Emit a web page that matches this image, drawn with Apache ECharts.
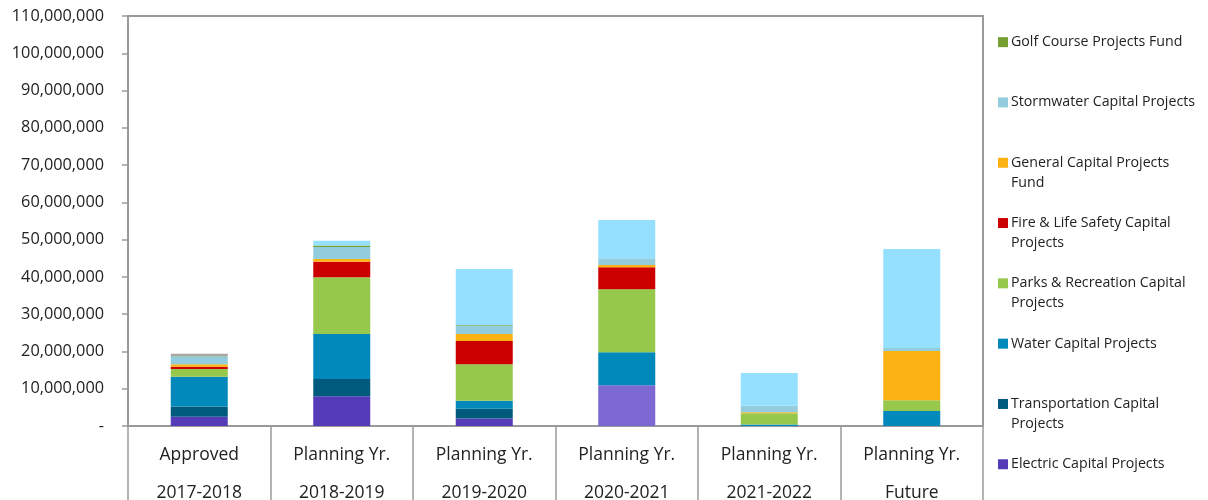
<!DOCTYPE html>
<html>
<head>
<meta charset="utf-8">
<script src="https://cdn.jsdelivr.net/npm/echarts@6/dist/echarts.min.js"></script>
<style>
  html, body { margin: 0; padding: 0; background: #fff; }
  #chart { width: 1208px; height: 500px; }
</style>
</head>
<body>
<div id="chart"></div>
<script>
// Capital project funding by planning year (dollars)
const categories = [
  'Approved\n2017-2018',
  'Planning Yr.\n2018-2019',
  'Planning Yr.\n2019-2020',
  'Planning Yr.\n2020-2021',
  'Planning Yr.\n2021-2022',
  'Planning Yr.\nFuture'
];

const electric       = [2500000, 8000000, 2000000, 10900000, 0, 0];
const transportation = [2700000, 4600000, 2600000, 0, 0, 0];
const water          = [8000000, 12100000, 2200000, 8900000, 400000, 4000000];
const parks          = [2100000, 15200000, 9800000, 16900000, 3000000, 2900000];
const fireLife       = [600000, 4200000, 6200000, 5900000, 0, 0];
const generalFund    = [700000, 700000, 1900000, 600000, 300000, 13200000];
const stormwater     = [2100000, 3200000, 2100000, 1800000, 1700000, 800000];
const golf           = [100000, 400000, 200000, 0, 0, 0];
const otherProjects  = [0, 1300000, 15100000, 10300000, 8800000, 26600000];
const miscProjects   = [600000, 0, 0, 0, 0, 0];

const yTicks = { min: 0, max: 110000000, interval: 10000000 };

// Legend entries, top to bottom, with their wrapped display text
const legendItems = [
  ['Golf Course Projects Fund'],
  ['Stormwater Capital Projects'],
  ['General Capital Projects', 'Fund'],
  ['Fire & Life Safety Capital', 'Projects'],
  ['Parks & Recreation Capital', 'Projects'],
  ['Water Capital Projects'],
  ['Transportation Capital', 'Projects'],
  ['Electric Capital Projects']
];

const FONT = '"Open Sans", "Noto Sans", sans-serif';

function bar(name, data, color, extra) {
  return Object.assign({
    name: name,
    type: 'bar',
    stack: 'total',
    barWidth: 57,
    data: data,
    itemStyle: { color: color },
    emphasis: { disabled: true }
  }, extra || {});
}

// The 2020-2021 electric segment is drawn in a lighter purple
const electricData = electric.map((v, i) =>
  i === 3 ? { value: v, itemStyle: { color: '#7B68D0' } } : v);

const chart = echarts.init(document.getElementById('chart'), null, { renderer: 'canvas' });

chart.setOption({
  animation: false,
  backgroundColor: '#ffffff',
  textStyle: { fontFamily: FONT },
  grid: {
    left: 128, right: 225, top: 16, bottom: 74,
    containLabel: false,
    outerBoundsMode: 'none',
    show: true, borderColor: '#9a9a9a', borderWidth: 2, backgroundColor: 'transparent'
  },
  legend: {
    orient: 'vertical',
    left: 998,
    top: 12,
    height: 488,
    padding: 0,
    itemWidth: 10,
    itemHeight: 10,
    itemGap: 0,
    icon: 'rect',
    data: legendItems.map(l => l.join(' ')),
    formatter: function (name) {
      const item = legendItems.find(l => l.join(' ') === name);
      const lines = [''].concat(item);
      if (item.length === 1) lines.push('');
      return lines.join('\n');
    },
    textStyle: { fontFamily: FONT, fontSize: 14.2, color: '#222', lineHeight: 20.1, padding: [0, 0, 0, -2] },
    selectedMode: false
  },
  xAxis: {
    type: 'category',
    data: categories,
    boundaryGap: true,
    axisLine: { lineStyle: { color: '#9a9a9a', width: 2 } },
    axisTick: { show: true, length: 74, alignWithLabel: false, lineStyle: { color: '#9a9a9a', width: 1.5 } },
    axisLabel: {
      margin: 10,
      fontFamily: FONT, fontSize: 17.5, color: '#222', lineHeight: 38
    }
  },
  yAxis: {
    type: 'value',
    min: yTicks.min,
    max: yTicks.max,
    interval: yTicks.interval,
    axisLine: { show: true, lineStyle: { color: '#9a9a9a', width: 2 } },
    axisTick: { show: true, length: 6, lineStyle: { color: '#9a9a9a', width: 1.5 } },
    splitLine: { show: false },
    axisLabel: {
      margin: 24,
      fontFamily: FONT, fontSize: 16.3, color: '#222',
      formatter: v => v === 0 ? '-' : v.toLocaleString('en-US')
    }
  },
  series: [
    bar('Electric Capital Projects', electricData, '#553BB8'),
    bar('Transportation Capital Projects', transportation, '#005A7E'),
    bar('Water Capital Projects', water, '#0089BA'),
    bar('Parks & Recreation Capital Projects', parks, '#96C84B'),
    bar('Fire & Life Safety Capital Projects', fireLife, '#CC0000'),
    bar('General Capital Projects Fund', generalFund, '#FDB213'),
    bar('Stormwater Capital Projects', stormwater, '#93CDDD'),
    bar('Golf Course Projects Fund', golf, '#77A033'),
    bar('Other Capital Projects', otherProjects, '#96E0FF'),
    bar('Miscellaneous Projects', miscProjects, '#ABA5A5')
  ]
});
</script>
</body>
</html>
